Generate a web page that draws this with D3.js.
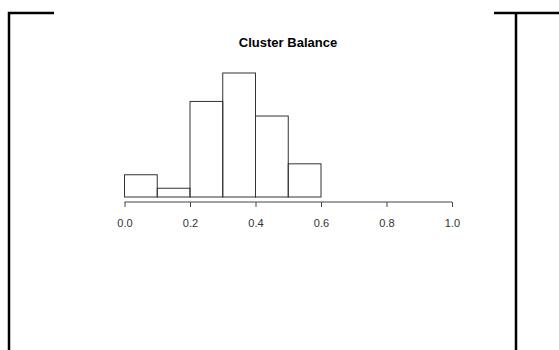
<!DOCTYPE html>
<html>
<head>
<meta charset="utf-8">
<script src="https://cdn.jsdelivr.net/npm/d3@7"></script>
<style>
  body { margin: 0; background: #fff; }
  svg { display: block; font-family: "Liberation Sans", Arial, sans-serif; }
</style>
</head>
<body>
<div id="chart"></div>
<script>
// histogram bins (density)
var binStarts = [0.0, 0.1, 0.2, 0.3, 0.4, 0.5, 0.6, 0.7, 0.8, 0.9];
var density = [0.61, 0.24, 2.62, 3.40, 2.22, 0.91, 0, 0, 0, 0];
var tickValues = [0.0, 0.2, 0.4, 0.6, 0.8, 1.0];
var binWidth = 0.1;
var title = "Cluster Balance";

var W = 559, H = 350;

var svg = d3.select("#chart").append("svg")
    .attr("width", W)
    .attr("height", H);

// frame bits around the panel
svg.append("path")
    .attr("d", "M9,350V13H54")
    .attr("fill", "none")
    .attr("stroke", "#000")
    .attr("stroke-width", 2.5);
svg.append("path")
    .attr("d", "M494,13H559M516,13V350")
    .attr("fill", "none")
    .attr("stroke", "#000")
    .attr("stroke-width", 2.5);

var x = d3.scaleLinear()
    .domain([0, 1])
    .range([124.5, 452]);

var y = d3.scaleLinear()
    .domain([0, 3.40])
    .range([197, 73]);

//bars
svg.selectAll(".bar")
    .data(binStarts)
    .enter().append("rect")
    .attr("class", "bar")
    .attr("x", function (d) { return x(d); })
    .attr("y", function (d, i) { return y(density[i]); })
    .attr("width", function (d) { return x(d + binWidth) - x(d); })
    .attr("height", function (d, i) { return y(0) - y(density[i]); })
    .attr("fill", "none")
    .attr("stroke", "#333")
    .attr("stroke-width", 1);

//axis
var axis = svg.append("g")
    .attr("transform", "translate(0,202)")
    .call(d3.axisBottom(x)
        .tickValues(tickValues)
        .tickSize(5)
        .tickSizeOuter(0)
        .tickPadding(12)
        .tickFormat(d3.format(".1f")));

axis.select(".domain").attr("stroke", "#444");
axis.selectAll(".tick line").attr("stroke", "#444");
axis.selectAll(".tick text")
    .attr("fill", "#333")
    .style("font-size", "11px")
    .style("font-family", "'Liberation Sans', Arial, sans-serif");

// R style: plain axis line from first to last tick
axis.select(".domain").attr("d", "M" + x(0) + ",0H" + x(1));

svg.append("text")
    .attr("x", 288)
    .attr("y", 47)
    .attr("text-anchor", "middle")
    .attr("font-weight", "bold")
    .attr("font-size", "13px")
    .attr("fill", "#000")
    .text(title);
</script>
</body>
</html>
